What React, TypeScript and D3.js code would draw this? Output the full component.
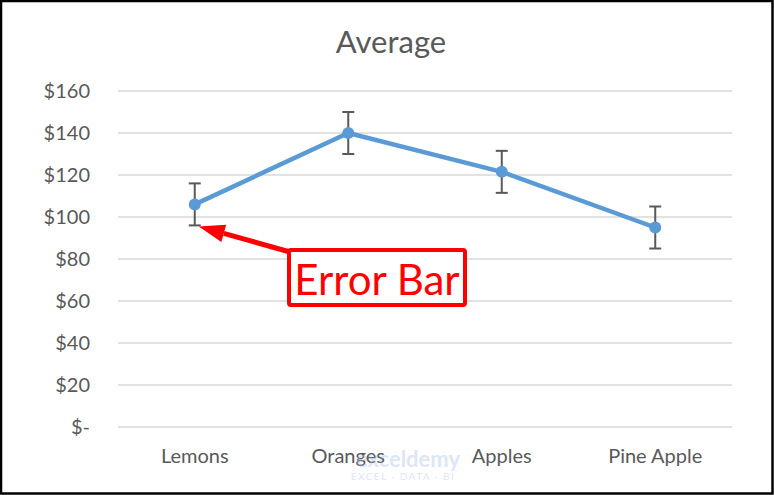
import React from "react";
import * as d3 from "d3";

const categories = ["Lemons", "Oranges", "Apples", "Pine Apple"];
const averages = [106, 140, 121.5, 95];
const errors = [10, 10, 10, 10];
const yTicks = [0, 20, 40, 60, 80, 100, 120, 140, 160];
const title = "Average";
const calloutText = "Error Bar";

const W = 774;
const H = 495;
const FONT = "Lato, 'Open Sans', sans-serif";

export default function App() {
  const x = d3.scaleBand<string>().domain(categories).range([118, 732]);
  const y = d3.scaleLinear().domain([0, 160]).range([427, 91]);
  const cx = (c: string) => (x(c) as number) + x.bandwidth() / 2;
  const pts = categories.map((c, i) => ({ c, v: averages[i], e: errors[i] }));
  const line = d3
    .line<{ c: string; v: number }>()
    .x((d) => cx(d.c))
    .y((d) => y(d.v));
  const fmt = (v: number) => (v === 0 ? "$-" : "$" + d3.format("d")(v));

  // arrow from callout to Lemons error bar bottom
  const tipX = cx(categories[0]) + 4;
  const tipY = y(averages[0] - errors[0]) + 1;
  const fromX = 290;
  const fromY = 252;
  const ang = Math.atan2(tipY - fromY, tipX - fromX);
  const headLen = 26;
  const headW = 9;
  const bx = tipX - headLen * Math.cos(ang);
  const by = tipY - headLen * Math.sin(ang);
  const px = -Math.sin(ang);
  const py = Math.cos(ang);

  return (
    <svg
      width={W}
      height={H}
      style={{ position: "absolute", left: 0, top: 0, display: "block" }}
    >
      <rect x={0} y={0} width={W} height={H} fill="#fff" />
      <rect x={1} y={1} width={W - 2.5} height={H - 2.5} fill="none" stroke="#000" strokeWidth={2.5} />
      <text x={391} y={53} textAnchor="middle" fontFamily={FONT} fontSize={31} fill="#595959">
        {title}
      </text>
      {yTicks.map((t) => (
        <g key={t}>
          <line x1={118} x2={732} y1={y(t)} y2={y(t)} stroke="#d9d9d9" strokeWidth={1.5} />
          <text
            x={90}
            y={y(t)}
            dy="0.35em"
            textAnchor="end"
            fontFamily={FONT}
            fontSize={20}
            fill="#595959"
          >
            {fmt(t)}
          </text>
        </g>
      ))}
      {categories.map((c) => (
        <text
          key={c}
          x={cx(c)}
          y={463}
          textAnchor="middle"
          fontFamily={FONT}
          fontSize={20}
          fill="#595959"
        >
          {c}
        </text>
      ))}
      <path d={line(pts) || ""} fill="none" stroke="#5B9BD5" strokeWidth={4.5} strokeLinejoin="round" />
      {pts.map((p) => (
        <g key={p.c} stroke="#595959" strokeWidth={2}>
          <line x1={cx(p.c)} x2={cx(p.c)} y1={y(p.v + p.e)} y2={y(p.v - p.e)} />
          <line x1={cx(p.c) - 6} x2={cx(p.c) + 6} y1={y(p.v + p.e)} y2={y(p.v + p.e)} />
          <line x1={cx(p.c) - 6} x2={cx(p.c) + 6} y1={y(p.v - p.e)} y2={y(p.v - p.e)} />
        </g>
      ))}
      {pts.map((p) => (
        <circle key={p.c} cx={cx(p.c)} cy={y(p.v)} r={6} fill="#5B9BD5" />
      ))}
      {/* watermark */}
      <g opacity={0.35}>
        <text x={408} y={467} textAnchor="middle" fontFamily={FONT} fontSize={22} fontWeight={700} fill="#9fb8e6">
          exceldemy
        </text>
        <text x={403} y={480} textAnchor="middle" fontFamily={FONT} fontSize={10} letterSpacing={1.5} fill="#9fb8e6">
          EXCEL · DATA · BI
        </text>
      </g>
      {/* callout arrow */}
      <line x1={fromX} y1={fromY} x2={bx} y2={by} stroke="#ff0000" strokeWidth={5} />
      <polygon
        points={`${tipX},${tipY} ${bx + px * headW},${by + py * headW} ${bx - px * headW},${by - py * headW}`}
        fill="#ff0000"
      />
      <rect x={289} y={250} width={176} height={55} fill="#fff" stroke="#ff0000" strokeWidth={4} rx={2} />
      <text x={377} y={295} textAnchor="middle" fontFamily={FONT} fontSize={42} fill="#ff0000">
        {calloutText}
      </text>
    </svg>
  );
}
